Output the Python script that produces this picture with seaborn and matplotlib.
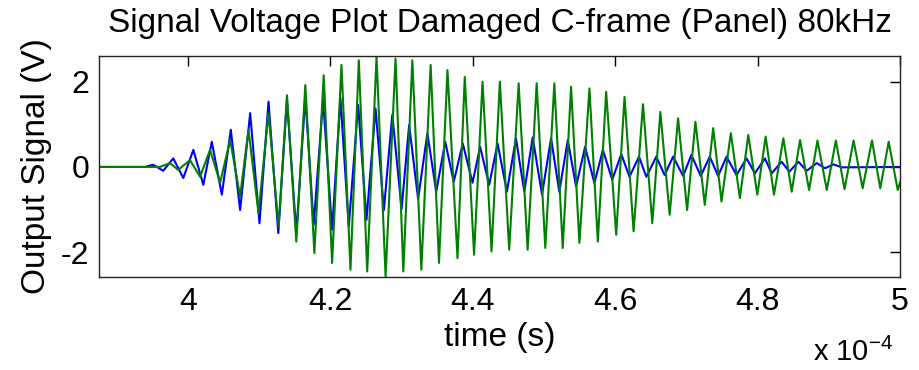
import matplotlib
matplotlib.use("Agg")
import matplotlib.pyplot as plt
import numpy as np
import pandas as pd
import seaborn as sns

# Extremum times (microseconds) and voltages of each response trace
blue_time_us = [387.46, 393.94, 395.11, 396.52, 397.93, 399.34, 400.75, 402.15, 403.34, 404.75,
                406.01, 407.32, 408.73, 410.04, 411.31, 412.68, 413.90, 415.21, 416.48, 417.65,
                418.97, 420.24, 421.41, 422.58, 423.90, 425.07, 426.34, 427.51, 428.69, 430.00,
                431.06, 432.32, 433.62, 434.86, 436.13, 437.32, 438.59, 439.96, 441.03, 442.30,
                443.48, 444.79, 446.06, 447.23, 448.41, 449.72, 450.99, 452.15, 453.34, 454.51,
                455.77, 457.08, 458.27, 459.58, 460.85, 462.01, 463.34, 464.37, 465.77, 466.94,
                468.13, 469.54, 470.70, 472.01, 473.28, 474.46, 475.63, 477.04, 478.45, 479.62,
                481.03, 481.97, 483.38, 484.46, 485.73, 486.90, 488.31, 489.48, 490.66, 491.83,
                500.50]
blue_volts = [0.00, 0.00, 0.05, -0.09, 0.20, -0.26, 0.40, -0.42, 0.59, -0.65,
              0.87, -1.01, 1.26, -1.32, 1.53, -1.55, 1.57, -1.55, 1.64, -1.36,
              1.57, -1.47, 1.61, -1.40, 1.45, -1.24, 1.37, -1.01, 1.22, -0.98,
              0.98, -0.75, 0.79, -0.58, 0.59, -0.35, 0.55, -0.37, 0.47, -0.42,
              0.55, -0.58, 0.67, -0.58, 0.69, -0.65, 0.67, -0.58, 0.63, -0.46,
              0.47, -0.38, 0.40, -0.30, 0.30, -0.23, 0.24, -0.23, 0.24, -0.19,
              0.24, -0.21, 0.28, -0.21, 0.24, -0.21, 0.24, -0.19, 0.20, -0.15,
              0.20, -0.15, 0.12, -0.11, 0.12, -0.09, 0.09, -0.03, 0.06, -0.01,
              0.00]

green_time_us = [387.46, 396.06, 397.46, 398.63, 400.28, 401.69, 403.10, 404.51, 405.92, 407.32,
                 408.49, 409.90, 411.31, 412.72, 413.90, 415.21, 416.48, 417.75, 419.06, 420.24,
                 421.55, 422.82, 423.99, 425.17, 426.48, 427.75, 429.15, 430.24, 431.51, 432.77,
                 434.08, 435.25, 436.44, 437.85, 438.87, 440.18, 441.37, 442.63, 443.80, 445.11,
                 446.44, 447.70, 448.97, 450.18, 451.45, 452.63, 453.80, 454.97, 456.38, 457.56,
                 458.73, 460.14, 461.31, 462.58, 463.90, 465.21, 466.34, 467.65, 468.83, 470.10,
                 471.27, 472.58, 473.76, 474.93, 476.24, 477.51, 478.69, 479.96, 481.13, 482.30,
                 483.62, 484.79, 485.96, 487.23, 488.41, 489.72, 490.99, 492.21, 493.48, 494.75,
                 496.06, 497.23, 498.41, 499.68, 500.28]
green_volts = [0.00, 0.00, 0.09, -0.07, 0.16, -0.23, 0.40, -0.37, 0.63, -0.69,
               0.87, -1.08, 1.26, -1.40, 1.68, -1.75, 1.92, -2.02, 2.15, -2.25,
               2.39, -2.41, 2.50, -2.45, 2.58, -2.57, 2.54, -2.45, 2.50, -2.41,
               2.39, -2.25, 2.27, -2.14, 2.11, -2.06, 2.00, -1.98, 2.00, -1.94,
               1.96, -1.94, 1.96, -1.90, 1.96, -1.90, 1.88, -1.78, 1.84, -1.75,
               1.76, -1.59, 1.64, -1.51, 1.47, -1.32, 1.29, -1.12, 1.14, -1.01,
               1.06, -0.89, 0.91, -0.81, 0.79, -0.73, 0.75, -0.65, 0.71, -0.65,
               0.67, -0.58, 0.63, -0.54, 0.62, -0.54, 0.62, -0.52, 0.62, -0.50,
               0.62, -0.50, 0.59, -0.54, -0.23]

x_ticks = [4.0e-4, 4.2e-4, 4.4e-4, 4.6e-4, 4.8e-4, 5.0e-4]
x_tick_labels = ["4", "4.2", "4.4", "4.6", "4.8", "5"]
y_ticks = [-2, 0, 2]
y_tick_labels = ["-2", "0", "2"]

sns.set_style("white")
plt.rcParams["font.family"] = ["Liberation Sans", "DejaVu Sans"]
plt.rcParams["axes.unicode_minus"] = False
plt.rcParams["mathtext.fontset"] = "custom"
plt.rcParams["mathtext.rm"] = "Liberation Sans"
plt.rcParams["text.color"] = "black"
plt.rcParams["axes.labelcolor"] = "black"

df = pd.concat([
    pd.DataFrame({"time": np.array(blue_time_us) * 1e-6, "volts": blue_volts, "trace": "a"}),
    pd.DataFrame({"time": np.array(green_time_us) * 1e-6, "volts": green_volts, "trace": "b"}),
], ignore_index=True)

fig = plt.figure(figsize=(9.19, 3.70), dpi=100)
ax = fig.add_axes([99 / 919, 1 - 277 / 370, 801 / 919, 221 / 370])

sns.lineplot(data=df, x="time", y="volts", hue="trace",
             palette={"a": "#0000ff", "b": "#008000"},
             estimator=None, sort=False, legend=False, linewidth=1.5, ax=ax)

ax.set_xlim(3.875e-4, 5.0e-4)
ax.set_ylim(-2.58, 2.6)
ax.set_xticks(x_ticks)
ax.set_xticklabels(x_tick_labels)
ax.set_yticks(y_ticks)
ax.set_yticklabels(y_tick_labels)
ax.tick_params(direction="in", length=7, width=1, colors="black", labelsize=23,
               top=True, right=True, pad=7)
for s in ax.spines.values():
    s.set_visible(True)
    s.set_color("#222222")
    s.set_linewidth(1.0)

ax.set_title("Signal Voltage Plot Damaged C-frame (Panel) 80kHz", fontsize=24, pad=17,
             color="black")
ax.set_xlabel("time (s)", fontsize=24, labelpad=4)
ax.set_ylabel("Output Signal (V)", fontsize=24, labelpad=6)
fig.text(813 / 919, 1 - 361 / 370, r"x 10$^{\mathregular{-4}}$", fontsize=21,
         ha="left", va="baseline", color="black")

fig.savefig("out.png", dpi=100)
